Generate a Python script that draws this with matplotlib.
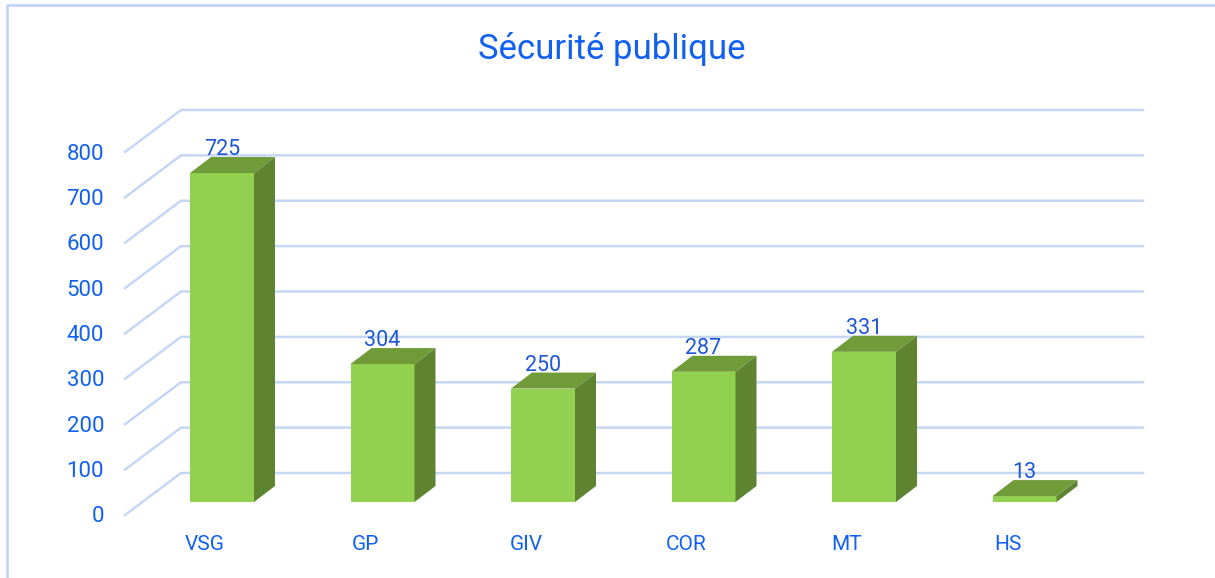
import matplotlib
matplotlib.use('Agg')
import matplotlib.pyplot as plt
from matplotlib.patches import Polygon

plt.rcParams['font.family'] = ['Roboto', 'DejaVu Sans']

categories = ['VSG', 'GP', 'GIV', 'COR', 'MT', 'HS']
values = [725, 304, 250, 287, 331, 13]
y_ticks = [0, 100, 200, 300, 400, 500, 600, 700, 800]
title = 'Sécurité publique'

W, H = 1215, 578
px_x = 160.5          # pixels per category
px_y = 363 / 800      # pixels per unit
x0, y0 = 222, 502     # pixel of first bar centre, value 0


def dx(p):
    return p / px_x


def dy(p):
    return p / px_y


fig = plt.figure(figsize=(W / 100, H / 100), dpi=100)
ax = fig.add_axes([0, 0, 1, 1])
ax.set_xlim(-x0 / px_x, (W - x0) / px_x)
ax.set_ylim(-(H - y0) / px_y, y0 / px_y)
ax.axis('off')

grid_c = '#C5D7F5'
blue = '#1160F0'
label_c = '#1D55D6'

# outer frame, only top and left show
ax.plot([dx(7 - x0), dx(7 - x0), dx(W - x0)],
        [dy(y0 - H), dy(y0 - 5), dy(y0 - 5)], color='#BDD2FB', lw=1.8, zorder=1)

# floor-to-wall gridlines
for v in y_ticks:
    ax.plot([dx(125 - x0), dx(181 - x0), dx(1143 - x0)],
            [v + dy(y0 - 515), v + dy(y0 - 473), v + dy(y0 - 473)],
            color=grid_c, lw=1.8, zorder=1)
    ax.text(dx(104 - x0), v + dy(y0 - 517), str(v), color=blue, fontsize=16,
            ha='right', va='center')

bw = dx(64)
ddx, ddy = dx(21), dy(16)
for i, (c, v) in enumerate(zip(categories, values)):
    l, r = i - bw / 2, i + bw / 2
    ax.bar(i, v, width=bw, color='#92D050', zorder=3)
    ax.add_patch(Polygon([(r, 0), (r + ddx, ddy), (r + ddx, v + ddy), (r, v)],
                         color='#5F8431', lw=0, zorder=3))
    ax.add_patch(Polygon([(l, v), (l + ddx, v + ddy), (r + ddx, v + ddy), (r, v)],
                         color='#709B39', lw=0, zorder=3))
    ax.annotate(str(v), (i, v + ddy), xytext=(0, -3), textcoords='offset pixels',
                color=label_c, fontsize=15.5, ha='center', va='bottom', zorder=4)
    ax.text(i - dx(17), dy(y0 - 545), c, color=blue, fontsize=15,
            ha='center', va='center')

ax.text(dx(612 - x0), dy(y0 - 49), title, color=blue, fontsize=25,
        ha='center', va='center')

fig.savefig('out.png', dpi=100)
